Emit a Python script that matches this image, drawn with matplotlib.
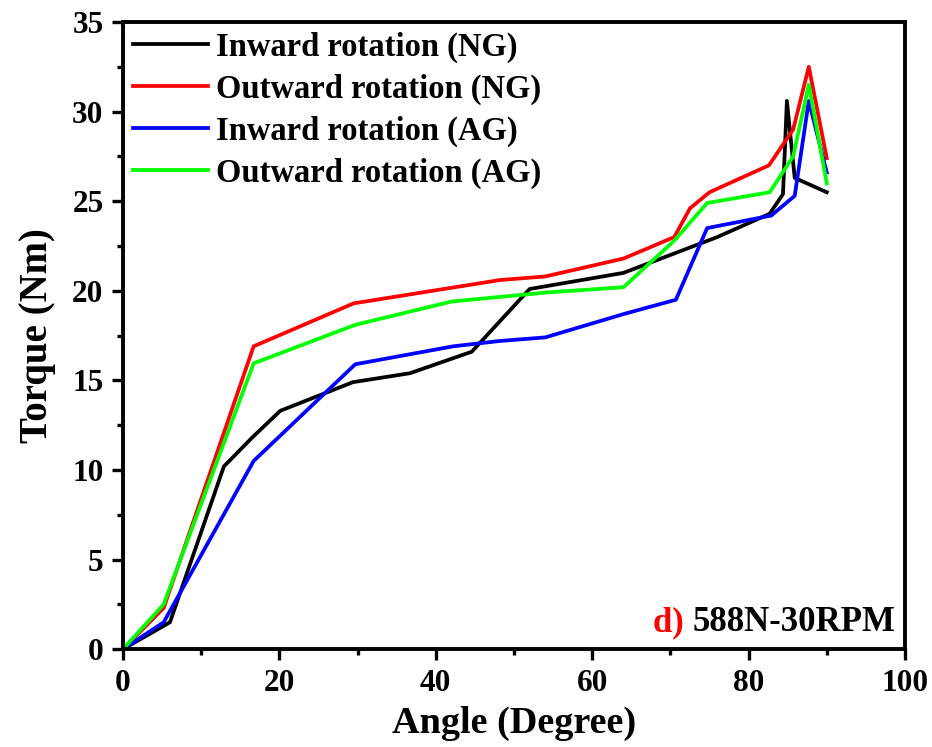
import matplotlib
matplotlib.use('Agg')
import matplotlib.pyplot as plt
from matplotlib.ticker import MultipleLocator

# Inward rotation (NG)
in_ng_x = [0, 6.0, 12.9, 16.5, 20.1, 29.4, 36.7, 44.6, 52.0, 64.0, 70.0, 76.0, 82.7, 84.4, 84.9, 85.9, 90.0]
in_ng_y = [0, 1.5, 10.2, 11.8, 13.3, 14.9, 15.4, 16.6, 20.1, 21.0, 22.0, 23.0, 24.3, 25.4, 30.6, 26.3, 25.5]
# Outward rotation (NG)
out_ng_x = [0, 5.2, 16.7, 29.5, 48.2, 54.0, 64.0, 70.5, 72.5, 75.0, 82.6, 85.7, 87.7, 90.0]
out_ng_y = [0, 2.3, 16.9, 19.3, 20.6, 20.8, 21.8, 23.0, 24.6, 25.5, 27.0, 29.0, 32.5, 27.4]
# Inward rotation (AG)
in_ag_x = [0, 5.2, 16.7, 29.7, 42.2, 48.2, 54.0, 64.0, 70.7, 74.7, 82.9, 85.9, 87.7, 90.0]
in_ag_y = [0, 1.5, 10.5, 15.9, 16.9, 17.2, 17.4, 18.7, 19.5, 23.5, 24.2, 25.3, 30.6, 26.6]
# Outward rotation (AG)
out_ag_x = [0, 5.2, 16.7, 29.7, 42.0, 54.0, 64.0, 70.5, 74.7, 82.7, 85.7, 87.7, 90.0]
out_ag_y = [0, 2.5, 15.95, 18.1, 19.4, 19.9, 20.2, 22.8, 24.9, 25.5, 27.5, 31.5, 26.0]

series = [
    (in_ng_x, in_ng_y, '#000000', 'Inward rotation (NG)'),
    (out_ng_x, out_ng_y, '#ff0000', 'Outward rotation (NG)'),
    (in_ag_x, in_ag_y, '#0000ff', 'Inward rotation (AG)'),
    (out_ag_x, out_ag_y, '#00ff00', 'Outward rotation (AG)'),
]

plt.rcParams['font.family'] = ['Liberation Serif', 'DejaVu Serif']
plt.rcParams['font.weight'] = 'bold'

fig = plt.figure(figsize=(9.32, 7.47), dpi=100)
ax = fig.add_axes([0.132, 0.131, 0.839, 0.8395])

for x, y, c, lab in series:
    ax.plot(x, y, color=c, lw=2.7, label=lab)

ax.set_xlim(0, 100)
ax.set_ylim(0, 35)
ax.xaxis.set_major_locator(MultipleLocator(20))
ax.xaxis.set_minor_locator(MultipleLocator(10))
ax.yaxis.set_major_locator(MultipleLocator(5))
ax.yaxis.set_minor_locator(MultipleLocator(2.5))
ax.tick_params(which='major', direction='out', length=8, width=2.4, labelsize=22.5, pad=6)
ax.tick_params(which='minor', direction='out', length=4, width=2.4)
for s in ax.spines.values():
    s.set_linewidth(2.8)

ax.set_xlabel('Angle (Degree)', fontsize=27.5, fontweight='bold', labelpad=6)
ax.set_ylabel('Torque (Nm)', fontsize=28, fontweight='bold', labelpad=12)

ax.legend(loc='upper left', frameon=False, fontsize=23.5, handlelength=2.3,
          borderaxespad=0.1, borderpad=0.2, labelspacing=0.33, handletextpad=0.25)

tag = ax.text(0.988, 0.042, '588N-30RPM', transform=ax.transAxes, color='black',
              fontsize=25, fontweight='bold', ha='right', va='center')
ax.annotate('d) ', xy=(0, 0.5), xycoords=tag, color='#ff0000',
            fontsize=25, fontweight='bold', ha='right', va='center')

fig.savefig('out.png', dpi=100)
